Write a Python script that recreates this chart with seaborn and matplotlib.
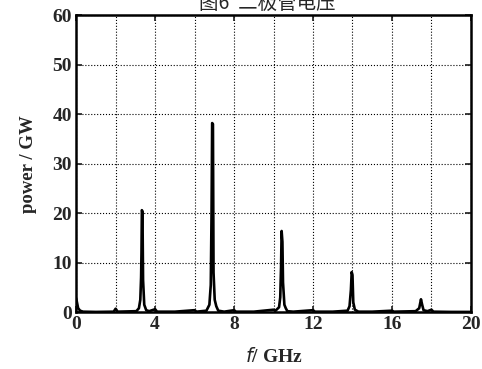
import numpy as np
import pandas as pd
import seaborn as sns
import matplotlib.pyplot as plt
from matplotlib.ticker import MultipleLocator

# values
freq_ghz = [0.00, 0.04, 0.10, 0.20, 0.35, 1.00, 1.90, 2.00, 2.10, 3.05, 3.18, 3.25,
            3.29, 3.31, 3.33, 3.36, 3.39, 3.45, 3.55, 3.70, 4.00, 4.10, 5.00, 6.00,
            6.10, 6.60, 6.75, 6.82, 6.86, 6.89, 6.93, 6.96, 7.02, 7.10, 7.20, 7.50,
            8.00, 8.10, 9.00, 10.00, 10.10, 10.28, 10.34, 10.38, 10.41, 10.45, 10.48,
            10.55, 10.62, 10.70, 11.00, 12.00, 12.10, 13.00, 13.75, 13.85, 13.92,
            13.96, 14.00, 14.04, 14.12, 14.30, 15.00, 16.00, 16.10, 17.20, 17.38,
            17.47, 17.53, 17.60, 17.80, 18.00, 18.10, 19.00, 20.00]
power_gw = [2.8, 2.0, 0.8, 0.3, 0.1, 0.05, 0.1, 0.7, 0.1, 0.2, 0.8, 2.5,
            7.0, 12.0, 20.6, 20.3, 6.5, 1.5, 0.4, 0.2, 0.6, 0.1, 0.1, 0.4,
            0.1, 0.3, 1.5, 5.5, 20.0, 38.2, 38.0, 8.0, 2.5, 1.2, 0.3, 0.1,
            0.4, 0.1, 0.1, 0.5, 0.3, 1.0, 3.0, 9.0, 16.4, 14.2, 6.0,
            1.5, 0.8, 0.2, 0.1, 0.4, 0.1, 0.1, 0.3, 1.2, 4.5,
            8.1, 7.5, 2.0, 0.5, 0.1, 0.1, 0.3, 0.1, 0.2, 0.8,
            2.6, 1.5, 0.4, 0.2, 0.5, 0.1, 0.05, 0.05]

df = pd.DataFrame({'f': freq_ghz, 'power': power_gw})

sns.set_theme(style='ticks')
plt.rcParams['font.family'] = ['Liberation Serif', 'DejaVu Serif']

fig = plt.figure(figsize=(4.82, 3.69), dpi=100)
ax = fig.add_axes([0.158, 0.154, 0.819, 0.805])
sns.lineplot(data=df, x='f', y='power', color='black', linewidth=1.9, ax=ax)

ax.set_xlim(0, 20)
ax.set_ylim(0, 60)
ax.xaxis.set_major_locator(MultipleLocator(4))
ax.xaxis.set_minor_locator(MultipleLocator(2))
ax.yaxis.set_major_locator(MultipleLocator(10))
ax.grid(True, which='both', color='black', linestyle=':', linewidth=0.8)
ax.tick_params(which='both', direction='in', top=True, right=True, length=4,
               labelsize=14, pad=3)
ax.tick_params(which='minor', length=0)
for lbl in ax.get_xticklabels() + ax.get_yticklabels():
    lbl.set_fontweight('bold')
for s in ax.spines.values():
    s.set_linewidth(1.8)
    s.set_color('black')

ax.set_xlabel(r'$\mathit{f}$/ GHz', fontsize=14, fontweight='bold', labelpad=10)
ax.set_ylabel('power / GW', fontsize=13.5, fontweight='bold', labelpad=11)

# caption cut off at the top of the scan
fig.text(0.555, 0.99, '图6  二极管电压', ha='center', va='center', fontsize=14,
         family=['Noto Sans CJK SC', 'DejaVu Sans'])

fig.savefig('out.png', dpi=100)
